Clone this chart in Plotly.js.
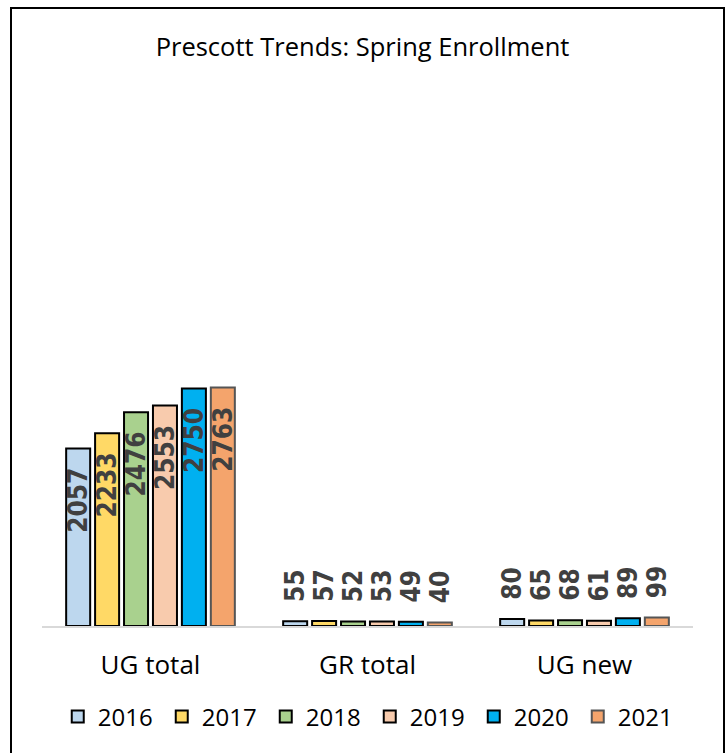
<!DOCTYPE html>
<html>
<head>
<meta charset="utf-8">
<script src="https://cdn.plot.ly/plotly-3.0.1.min.js"></script>
<style>
html,body{margin:0;padding:0;background:#fff;}
#wrap{position:relative;width:725px;height:753px;overflow:hidden;}
#chart{position:absolute;left:0;top:0;width:725px;height:753px;}
#frame{position:absolute;left:10px;top:7px;width:711px;height:780px;border:2px solid #000;pointer-events:none;}
</style>
</head>
<body>
<div id="wrap"><div id="chart"></div><div id="frame"></div></div>
<script>
const categories = ['UG total', 'GR total', 'UG new'];
const years = ['2016', '2017', '2018', '2019', '2020', '2021'];
const v2016 = [2057, 55, 80];
const v2017 = [2233, 57, 65];
const v2018 = [2476, 52, 68];
const v2019 = [2553, 53, 61];
const v2020 = [2750, 49, 89];
const v2021 = [2763, 40, 99];
const seriesValues = [v2016, v2017, v2018, v2019, v2020, v2021];

const fills = ['#BDD7EE', '#FFD966', '#A9D18E', '#F8CBAD', '#00B0F0', '#F4A46C'];
const outlines = ['#000000', '#000000', '#000000', '#000000', '#000000', '#555555'];
const FONT = '"Open Sans", "Noto Sans", sans-serif';
const LABELFONT = '"Liberation Sans Narrow", "DejaVu Sans Condensed", "Liberation Sans", sans-serif';
const labelFont = {family: LABELFONT, size: 26, color: '#404040', weight: 700};

const traces = years.map((yr, i) => ({
  type: 'bar',
  name: yr,
  x: categories,
  y: seriesValues[i],
  marker: {color: fills[i], line: {color: outlines[i], width: 2}},
  texttemplate: ['%{y}\u00a0\u00a0', '\u00a0\u00a0%{y}', '\u00a0\u00a0%{y}'],
  textposition: ['inside', 'outside', 'outside'],
  insidetextanchor: 'end',
  textangle: -90,
  constraintext: 'none',
  cliponaxis: false,
  textfont: labelFont,
  insidetextfont: labelFont,
  outsidetextfont: labelFont,
  hoverinfo: 'x+y+name'
}));

const layout = {
  width: 725,
  height: 753,
  paper_bgcolor: '#ffffff',
  plot_bgcolor: '#ffffff',
  margin: {l: 42, r: 32, t: 367, b: 127},
  barmode: 'group',
  bargap: 0.2,
  bargroupgap: 0.17,
  font: {family: FONT, color: '#000000'},
  title: {
    text: 'Prescott Trends: Spring Enrollment',
    font: {family: FONT, size: 25.5, color: '#000000'},
    x: 0.5, xanchor: 'center', xref: 'container',
    y: 1 - 47 / 753, yanchor: 'middle', yref: 'container'
  },
  xaxis: {
    type: 'category',
    showline: true,
    linecolor: '#D9D9D9',
    linewidth: 2,
    showgrid: false,
    zeroline: false,
    ticks: '',
    ticklabelstandoff: 15,
    tickfont: {family: FONT, size: 26, color: '#000000'}
  },
  yaxis: {
    range: [0, 3000],
    visible: false,
    showgrid: false,
    zeroline: false
  },
  showlegend: true,
  legend: {
    orientation: 'h',
    x: 0.51, xanchor: 'center', xref: 'container',
    y: 1 - 717 / 753, yanchor: 'middle', yref: 'container',
    font: {family: FONT, size: 24, color: '#000000'},
    traceorder: 'normal',
    itemwidth: 30,
    entrywidth: 59,
    entrywidthmode: 'pixels',
    tracegroupgap: 0
  }
};

Plotly.newPlot('chart', traces, layout, {displayModeBar: false, staticPlot: true});
</script>
</body>
</html>
